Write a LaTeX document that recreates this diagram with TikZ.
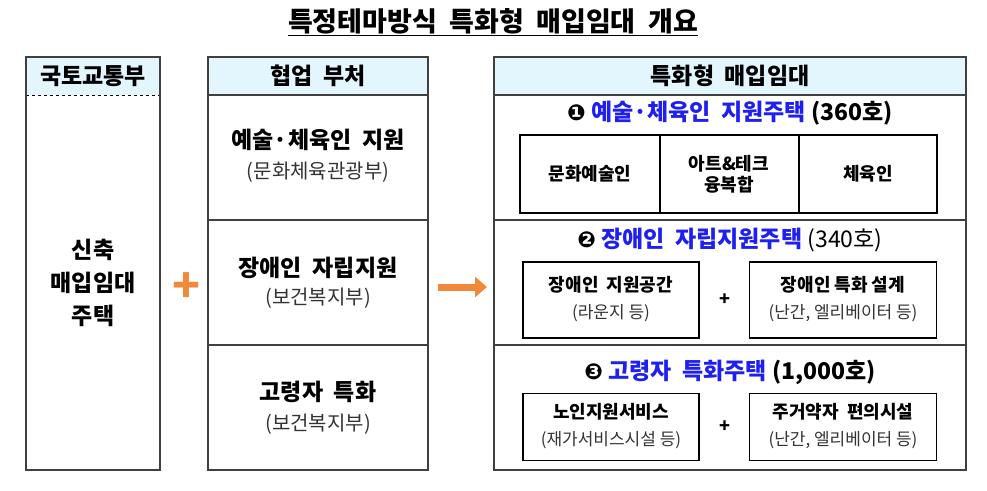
\documentclass[tikz,border=0pt]{standalone}
\usepackage{fontspec}
\usetikzlibrary{arrows.meta}
\setmainfont{Noto Sans CJK KR}
\newfontfamily\sym{DejaVu Sans}
\definecolor{hdr}{HTML}{E3F6FD}
\definecolor{org}{HTML}{F08A3A}
\definecolor{blu}{HTML}{1F1FF0}
\tikzset{
 frame/.style={draw=black!75,line width=1.2pt},
 ibox/.style={draw=black,line width=1.8pt},
 big/.style={font=\fontsize{23}{26}\selectfont\bfseries,align=center},
 head/.style={font=\fontsize{23}{26}\selectfont\bfseries},
 sub/.style={font=\fontsize{20}{23}\selectfont,text=black!80},
 small/.style={font=\fontsize{18}{21}\selectfont\bfseries,align=center},
 smallsub/.style={font=\fontsize{17}{20}\selectfont,text=black!80},
}
\newcommand\circnum[1]{{\sym\fontsize{22}{24}\selectfont #1}}
\begin{document}
\begin{tikzpicture}[x=1pt,y=-1pt]
\useasboundingbox (0,0) rectangle (987,490);
\node[font=\fontsize{27}{30}\selectfont\bfseries] (title) at (493,22) {\underline{특정테마방식\ \ 특화형\ \ 매입임대\ \ 개요}};
% left
\fill[hdr] (26,57) rectangle (160,95);
\draw[dashed,line width=0.8pt] (26,95) -- (160,95);
\draw[frame] (26,57) rectangle (160,470);
\node[big] (lh) at (93,76) {국토교통부};
\node[big,font=\fontsize{23}{33}\selectfont\bfseries] (lt) at (93,283) {신축\\매입임대\\주택};
\node[text=org,font=\fontsize{46}{46}\selectfont\bfseries] (plus) at (187,288) {+};
% middle
\fill[hdr] (208,57) rectangle (428,95);
\draw[frame] (208,57) rectangle (428,470);
\draw[frame] (208,95) -- (428,95) (208,220) -- (428,220) (208,345) -- (428,345);
\node[big] (mh) at (318,76) {협업\ \ 부처};
\node[big] (m1) at (318,140) {예술·체육인\ \ 지원};
\node[sub] (m1s) at (318,172) {(문화체육관광부)};
\node[big] (m2) at (318,268) {장애인\ \ 자립지원};
\node[sub] (m2s) at (318,298) {(보건복지부)};
\node[big] (m3) at (318,392) {고령자\ \ 특화};
\node[sub] (m3s) at (318,424) {(보건복지부)};
% arrow
\coordinate (a1) at (438,287); \coordinate (a2) at (487,287);
\draw[org,line width=7pt,-{Triangle[length=12pt,width=20pt]}] (a1) -- (a2);
% right
\fill[hdr] (494,57) rectangle (966,95);
\draw[frame] (494,57) rectangle (966,470);
\draw[frame] (494,95) -- (966,95) (494,220) -- (966,220) (494,345) -- (966,345);
\node[big] (rh) at (730,76) {특화형\ \ 매입임대};
\node[head] (r1) at (730,113) {\circnum{❶} \textcolor{blu}{예술·체육인\ \ 지원주택} (360호)};
\draw[ibox] (520,135) rectangle (937,213);
\draw[line width=1.4pt] (660,135) -- (660,213) (799,135) -- (799,213);
\node[small] (b11) at (590,174) {문화예술인};
\node[small] (b12) at (729,174) {아트\&테크\\융복합};
\node[small] (b13) at (868,174) {체육인};
\node[head] (r2) at (730,240) {\circnum{❷} \textcolor{blu}{장애인\ \ 자립지원주택} \mdseries(340호)};
\node[ibox,minimum width=176pt,minimum height=76pt] (b21) at (611,300) {};
\node[small] at (611,285) {장애인\ \ 지원공간};
\node[smallsub] at (611,313) {(라운지 등)};
\node[font=\fontsize{18}{20}\selectfont\bfseries] (p2) at (725,300) {+};
\node[ibox,minimum width=187pt,minimum height=76pt] (b22) at (843,300) {};
\node[small] at (843,285) {장애인 특화 설계};
\node[smallsub] at (843,313) {(난간, 엘리베이터 등)};
\node[head] (r3) at (730,372) {\circnum{❸} \textcolor{blu}{고령자\ \ 특화주택} (1,000호)};
\node[ibox,minimum width=176pt,minimum height=67pt] (b31) at (611,427) {};
\node[small] at (611,412) {노인지원서비스};
\node[smallsub] at (611,440) {(재가서비스시설 등)};
\node[font=\fontsize{18}{20}\selectfont\bfseries] (p3) at (725,427) {+};
\node[ibox,minimum width=187pt,minimum height=67pt] (b32) at (843,427) {};
\node[small] at (843,412) {주거약자\ \ 편의시설};
\node[smallsub] at (843,440) {(난간, 엘리베이터 등)};
\end{tikzpicture}
\end{document}
